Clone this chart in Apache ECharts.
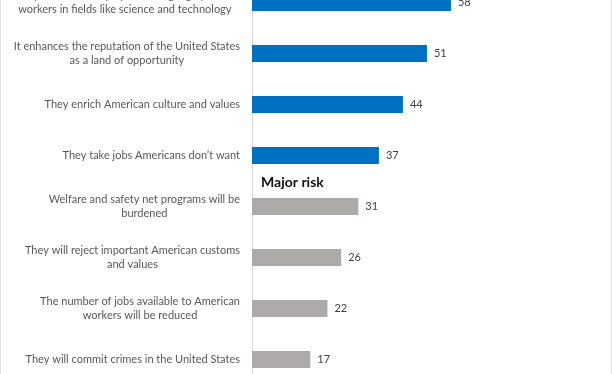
<!DOCTYPE html>
<html>
<head>
<meta charset="utf-8">
<script src="https://cdn.jsdelivr.net/npm/echarts@6/dist/echarts.min.js"></script>
<style>
html,body{margin:0;padding:0;background:#fff;}
#c{width:612px;height:374px;box-sizing:border-box;border-left:1px solid #e3e3e3;border-right:1px solid #e3e3e3;}
</style>
</head>
<body>
<div id="c"></div>
<script>
const categories = [
  "It helps the economy by attracting highly-skilled\nworkers in fields like science and technology",
  "It enhances the reputation of the United States\nas a land of opportunity",
  "They enrich American culture and values",
  "They take jobs Americans don\u2019t want",
  "Welfare and safety net programs will be\nburdened",
  "They will reject important American customs\nand values",
  "The number of jobs available to American\nworkers will be reduced",
  "They will commit crimes in the United States"
];
const values = [58, 51, 44, 37, 31, 26, 22, 17];
const groups = ["benefit","benefit","benefit","benefit","risk","risk","risk","risk"];
const groupTitle = "Major risk";

const groupColors = {benefit: "#0070C0", risk: "#AEAAAA"};

const chart = echarts.init(document.getElementById('c'), null, {renderer: 'canvas'});
chart.setOption({
  animation: false,
  title: {
    text: groupTitle,
    left: 260, top: 175, padding: 0,
    textStyle: {fontFamily: 'Lato', fontWeight: 'bold', fontSize: 14, color: '#111'}
  },
  grid: {left: 251, top: -23, width: 343, height: 408, containLabel: false, outerBoundsMode: 'none'},
  xAxis: {type: 'value', min: 0, max: 100, show: false},
  yAxis: {
    type: 'category', inverse: true, data: categories,
    axisLine: {show: true, lineStyle: {color: '#d9d9d9', width: 1}},
    axisTick: {show: false},
    axisLabel: {
      margin: 12, fontFamily: 'Lato', fontSize: 11, color: '#595959',
      lineHeight: 14, align: 'right', interval: 0,
      formatter: (v) => v.split('\n').map(s => '{c|' + s + '}').join('\n'),
      rich: {c: {align: 'center', fontFamily: 'Lato', fontSize: 11, color: '#595959', lineHeight: 14}}
    }
  },
  series: [{
    type: 'bar',
    barWidth: 17,
    data: values.map((v, i) => ({value: v, itemStyle: {color: groupColors[groups[i]]}})),
    label: {
      show: true, position: 'right', distance: 7,
      fontFamily: 'Lato', fontSize: 11, color: '#404040'
    }
  }]
});
</script>
</body>
</html>
